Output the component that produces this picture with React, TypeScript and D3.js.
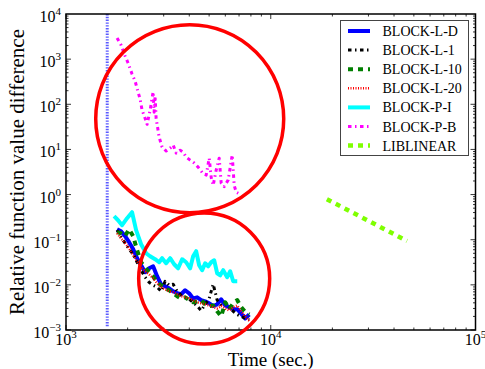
import React, { useEffect, useRef } from "react";
import * as d3 from "d3";

// legend / series names
const seriesNames = ["BLOCK-L-D", "BLOCK-L-1", "BLOCK-L-10", "BLOCK-L-20", "BLOCK-P-I", "BLOCK-P-B", "LIBLINEAR"];

// shared time grid of the BLOCK-L runs (sec.)
const blockTimes = [1776, 1857, 1944, 2033, 2127, 2225, 2327, 2434, 2546, 2664, 2786, 2914, 3049, 3189, 3337, 3490, 3651, 3818, 3995, 4178, 4371, 4573, 4782, 5005, 5234, 5475, 5728, 5993, 6267, 6555, 6860, 7174, 7506, 7851];
const blockLD = [0.171, 0.154, 0.120, 0.0881, 0.062, 0.0389, 0.0272, 0.0190, 0.0233, 0.0258, 0.0155, 0.0103, 0.0093, 0.0084, 0.0072, 0.0065, 0.0062, 0.0076, 0.0065, 0.0050, 0.0053, 0.0046, 0.0043, 0.0039, 0.0034, 0.0037, 0.0048, 0.0035, 0.0032, 0.0029, 0.0029, 0.0023, 0.0018, 0.0022];
const blockL1 = [0.163, 0.114, 0.084, 0.062, 0.0477, 0.0317, 0.0211, 0.0148, 0.0114, 0.0098, 0.0089, 0.0072, 0.0120, 0.0098, 0.0103, 0.0072, 0.0059, 0.0053, 0.0048, 0.0041, 0.0034, 0.0027, 0.0037, 0.0050, 0.0103, 0.0046, 0.0035, 0.0041, 0.0032, 0.0026, 0.0022, 0.0020, 0.0018, 0.0017];
const blockL10 = [0.147, 0.139, 0.120, 0.171, 0.120, 0.0585, 0.0317, 0.0246, 0.0190, 0.0155, 0.0114, 0.0098, 0.0084, 0.0076, 0.0065, 0.0056, 0.0050, 0.0053, 0.0046, 0.0041, 0.0043, 0.0046, 0.0037, 0.0034, 0.0035, 0.0026, 0.0020, 0.0041, 0.0029, 0.0039, 0.0046, 0.0032, 0.0025, 0.0022];
const blockL20 = [0.139, 0.108, 0.084, 0.0648, 0.0453, 0.0334, 0.0246, 0.0200, 0.0172, 0.0140, 0.0108, 0.0089, 0.0080, 0.0072, 0.0069, 0.0062, 0.0056, 0.0053, 0.0050, 0.0046, 0.0041, 0.0039, 0.0037, 0.0035, 0.0032, 0.0030, 0.0034, 0.0030, 0.0027, 0.0032, 0.0035, 0.0026, 0.0020, 0.0016];

const pITimes = [1717, 1796, 1879, 1988, 2102, 2200, 2327, 2462, 2575, 2724, 2850, 2947, 3083, 3226, 3374, 3529, 3692, 3862, 4040, 4178, 4322, 4470, 4624, 4782, 4948, 5118, 5293, 5475, 5664, 5858, 6127, 6339, 6555, 6860];
const pIValues = [0.332, 0.270, 0.210, 0.300, 0.407, 0.163, 0.0795, 0.0502, 0.0430, 0.0370, 0.0317, 0.0389, 0.0301, 0.0389, 0.0286, 0.0233, 0.0370, 0.0317, 0.0233, 0.0430, 0.0556, 0.0272, 0.0211, 0.0301, 0.0258, 0.0317, 0.0351, 0.0181, 0.0163, 0.0211, 0.0148, 0.0200, 0.0120, 0.0120];

const pBTimes = [1776, 1857, 1944, 2010, 2102, 2175, 2249, 2301, 2353, 2434, 2489, 2575, 2664, 2694, 2724, 2755, 2786, 2850, 2947, 3083, 3226, 3337, 3451, 3610, 3734, 3862, 4040, 4226, 4421, 4624, 4837, 5005, 5118, 5234, 5414, 5601, 5728, 5924, 6196, 6483, 6555, 6630, 6781, 6937];
const pBValues = [2938, 2056, 1172, 820, 467, 327, 187, 130, 74, 49, 36, 74, 187, 67, 152, 49, 36, 18.7, 11.3, 9.2, 10.7, 12.5, 8.3, 9.6, 8.7, 6.75, 5.8, 5.0, 4.05, 3.1, 2.7, 6.4, 2.4, 1.6, 3.5, 6.4, 1.8, 1.5, 2.1, 7.5, 3.5, 1.6, 1.13, 1.07];

const liblinearTimes = [18800, 46300];
const liblinearValues = [0.79, 0.094];

const startTime = 1590; // vertical dotted marker
const xTickExps = [3, 4, 5];
const yTickExps = [-3, -2, -1, 0, 1, 2, 3, 4];

// red annotation circles (centre in data units)
const circleTimes = [4020, 4730];
const circleValues = [47.7, 0.0138];

const App = () => {
  const svgRef = useRef<SVGSVGElement>(null);

  useEffect(() => {
    const svg = d3.select(svgRef.current);
    svg.selectAll("*").remove();

    const width = 485;
    const height = 369;
    const left = 66, right = 475.5, top = 14, bottom = 330;
    const font = "'Liberation Serif', 'Times New Roman', serif";

    svg.attr("width", width).attr("height", height);

    const x = d3.scaleLog().domain([1e3, 1e5]).range([left, right]);
    const y = d3.scaleLog().domain([1e-3, 1e4]).range([bottom, top]);

    svg.append("rect").attr("width", width).attr("height", height).attr("fill", "white");

    const clip = svg.append("clipPath").attr("id", "plotclip");
    clip.append("rect").attr("x", left).attr("y", top).attr("width", right - left).attr("height", bottom - top);

    const plot = svg.append("g").attr("clip-path", "url(#plotclip)");

    // vertical dotted line
    plot.append("line")
      .attr("x1", x(startTime)).attr("x2", x(startTime))
      .attr("y1", y(1e4)).attr("y2", bottom - 3)
      .attr("stroke", "#5a5aff").attr("stroke-width", 3)
      .attr("stroke-dasharray", "1.4,1.4");

    const styles = [
      { color: "#0000ff", width: 4, dash: null },
      { color: "#000000", width: 3, dash: "3.5,3.5,1.5,3.5" },
      { color: "#007f00", width: 4, dash: "5,5" },
      { color: "#ff0000", width: 2.5, dash: "1,1.5" },
      { color: "#00ffff", width: 4, dash: null },
      { color: "#ff00ff", width: 3, dash: "3.5,3.5,1.5,3.5" },
      { color: "#7fff00", width: 4.5, dash: "5,5" },
    ];

    const series = [
      { t: blockTimes, v: blockLD },
      { t: blockTimes, v: blockL1 },
      { t: blockTimes, v: blockL10 },
      { t: blockTimes, v: blockL20 },
      { t: pITimes, v: pIValues },
      { t: pBTimes, v: pBValues },
      { t: liblinearTimes, v: liblinearValues },
    ];

    const line = d3.line<[number, number]>()
      .x(d => x(d[0]))
      .y(d => y(d[1]));

    series.forEach((s, i) => {
      const pts = s.t.map((t, j) => [t, s.v[j]] as [number, number]);
      const st = styles[i];
      const p = plot.append("path")
        .attr("d", line(pts))
        .attr("fill", "none")
        .attr("stroke", st.color)
        .attr("stroke-width", st.width)
        .attr("stroke-linejoin", "round");
      if (st.dash) p.attr("stroke-dasharray", st.dash);
    });

    // ticks (inward, all four sides)
    const ticks = svg.append("g").attr("stroke", "black").attr("stroke-width", 0.8);
    d3.range(3, 5).forEach(e => {
      d3.range(1, 10).forEach(m => {
        const v = m * Math.pow(10, e);
        const len = m === 1 ? 5 : 2.5;
        ticks.append("line").attr("x1", x(v)).attr("x2", x(v)).attr("y1", bottom).attr("y2", bottom - len);
        ticks.append("line").attr("x1", x(v)).attr("x2", x(v)).attr("y1", top).attr("y2", top + len);
      });
    });
    d3.range(-3, 4).forEach(e => {
      d3.range(1, 10).forEach(m => {
        const v = m * Math.pow(10, e);
        const len = m === 1 ? 5 : 2.5;
        ticks.append("line").attr("y1", y(v)).attr("y2", y(v)).attr("x1", left).attr("x2", left + len);
        ticks.append("line").attr("y1", y(v)).attr("y2", y(v)).attr("x1", right).attr("x2", right - len);
      });
    });

    // frame
    svg.append("rect")
      .attr("x", left).attr("y", top)
      .attr("width", right - left).attr("height", bottom - top)
      .attr("fill", "none").attr("stroke", "black").attr("stroke-width", 1.5);

    const expText = (e: number) => (e < 0 ? "\u2212" + Math.abs(e) : String(e));

    // x tick labels
    xTickExps.forEach(e => {
      const t = svg.append("text")
        .attr("x", x(Math.pow(10, e)))
        .attr("y", 345)
        .attr("text-anchor", "middle")
        .style("font-family", font)
        .style("font-size", "16px");
      t.append("tspan").text("10");
      t.append("tspan").attr("dy", -7).style("font-size", "11px").text(expText(e));
    });

    // y tick labels
    yTickExps.forEach(e => {
      const t = svg.append("text")
        .attr("x", 61)
        .attr("y", y(Math.pow(10, e)) + 8)
        .attr("text-anchor", "end")
        .style("font-family", font)
        .style("font-size", "16px");
      t.append("tspan").text("10");
      t.append("tspan").attr("dy", -7).style("font-size", "11px").text(expText(e));
    });

    // axis labels
    svg.append("text")
      .attr("x", (left + right) / 2)
      .attr("y", 366)
      .attr("text-anchor", "middle")
      .style("font-family", font)
      .style("font-size", "19px")
      .text("Time (sec.)");

    svg.append("text")
      .attr("transform", `translate(24,${(top + bottom) / 2}) rotate(-90)`)
      .attr("text-anchor", "middle")
      .style("font-family", font)
      .style("font-size", "21px")
      .text("Relative function value difference");

    // red annotation circles
    const radii = [94, 65.5];
    circleTimes.forEach((t, i) => {
      svg.append("circle")
        .attr("cx", x(t))
        .attr("cy", y(circleValues[i]))
        .attr("r", radii[i])
        .attr("fill", "none")
        .attr("stroke", "#ff0000")
        .attr("stroke-width", 3.5);
    });

    // legend
    const lg = svg.append("g");
    lg.append("rect")
      .attr("x", 340.5).attr("y", 20.5)
      .attr("width", 128).attr("height", 135)
      .attr("fill", "white").attr("stroke", "#444").attr("stroke-width", 1);
    seriesNames.forEach((name, i) => {
      const cy = 31 + i * 19.1;
      const st = styles[i];
      const l = lg.append("line")
        .attr("x1", 348).attr("x2", 370)
        .attr("y1", cy).attr("y2", cy)
        .attr("stroke", st.color).attr("stroke-width", st.width);
      if (st.dash) l.attr("stroke-dasharray", st.dash);
      lg.append("text")
        .attr("x", 382.5)
        .attr("y", cy + 5)
        .style("font-family", font)
        .style("font-size", "14px")
        .text(name);
    });
  }, []);

  return <svg ref={svgRef} style={{ position: "absolute", left: 0, top: 0 }} />;
};

export default App;
